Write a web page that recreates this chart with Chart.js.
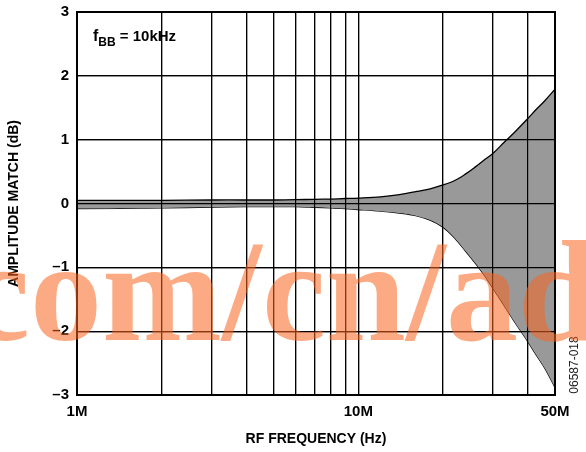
<!DOCTYPE html>
<html>
<head>
<meta charset="utf-8">
<script src="https://cdn.jsdelivr.net/npm/chart.js@4/dist/chart.umd.min.js"></script>
<style>
  html, body { margin: 0; padding: 0; background: #fff; }
  #wrap { width: 586px; height: 452px; }
</style>
</head>
<body>
<div id="wrap"><canvas id="c" width="586" height="452"></canvas></div>
<script>
// RF frequency sample points (MHz)
const freqMHz = [1, 2, 3, 4, 5, 6, 7, 8, 9, 10, 12, 14, 16, 18, 20, 22, 24, 26, 28, 30, 33, 36, 40, 43, 46, 50];
// Upper and lower edges of the amplitude match spread (dB)
const upperDb = [0.05, 0.05, 0.055, 0.055, 0.055, 0.06, 0.065, 0.07, 0.078, 0.085, 0.105, 0.14, 0.185, 0.23, 0.29, 0.36, 0.46, 0.57, 0.68, 0.78, 0.96, 1.12, 1.33, 1.48, 1.61, 1.79];
const lowerDb = [-0.08, -0.07, -0.055, -0.05, -0.05, -0.05, -0.06, -0.07, -0.08, -0.094, -0.12, -0.15, -0.19, -0.26, -0.37, -0.54, -0.74, -0.93, -1.12, -1.32, -1.6, -1.86, -2.16, -2.38, -2.58, -2.88];

// Grid positions on the log frequency axis (MHz) and the ones that get a label
const gridMHz = [1, 2, 3, 4, 5, 6, 7, 8, 9, 10, 20, 30, 40, 50];
const labelMHz = [1, 10, 50];
const labelText = ['1M', '10M', '50M'];
// Amplitude axis ticks
const yTickValues = [-3, -2, -1, 0, 1, 2, 3];
const yTickText = ['\u20133', '\u20132', '\u20131', '0', '1', '2', '3'];

const toPoints = vals => freqMHz.map((f, i) => ({ x: f * 1e6, y: vals[i] }));

const FONT = "'Liberation Sans', Arial, Helvetica, sans-serif";

const overlay = {
  id: 'overlay',
  afterDatasetsDraw(chart) {
    // grid lines sit on top of the shaded band
    const area = chart.chartArea;
    chart.scales.x.drawGrid(area);
    chart.scales.y.drawGrid(area);
    const ctx = chart.ctx;
    ctx.save();
    ctx.strokeStyle = '#000';
    ctx.lineWidth = 2;
    ctx.strokeRect(area.left, area.top, area.right - area.left, area.bottom - area.top);
    ctx.restore();
  },
  afterDraw(chart) {
    const ctx = chart.ctx;
    const area = chart.chartArea;
    ctx.save();
    // f_BB annotation
    ctx.fillStyle = '#000';
    ctx.textBaseline = 'alphabetic';
    ctx.textAlign = 'left';
    let x = area.left + 16;
    const y = 41;
    ctx.font = 'bold 16px ' + FONT;
    ctx.fillText('f', x, y);
    x += ctx.measureText('f').width;
    ctx.font = 'bold 12px ' + FONT;
    ctx.fillText('BB', x, y + 5);
    x += ctx.measureText('BB').width;
    ctx.font = 'bold 15px ' + FONT;
    ctx.fillText(' = 10kHz', x, y);

    // figure id along the right edge
    ctx.translate(575, 365);
    ctx.rotate(-Math.PI / 2);
    ctx.font = '12px ' + FONT;
    ctx.textAlign = 'center';
    ctx.textBaseline = 'middle';
    ctx.fillStyle = '#222';
    ctx.fillText('06587-018', 0, 0);
    ctx.restore();

    // stamp text across the plot
    ctx.save();
    ctx.font = "bold 144px 'Liberation Serif', 'Times New Roman', serif";
    ctx.fillStyle = 'rgba(250, 100, 30, 0.55)';
    ctx.textAlign = 'left';
    ctx.textBaseline = 'alphabetic';
    ctx.fillText('com/cn/ad', -34, 340);
    ctx.restore();
  }
};

new Chart(document.getElementById('c'), {
  type: 'line',
  data: {
    datasets: [
      {
        data: toPoints(upperDb),
        borderColor: '#000',
        borderWidth: 1.3,
        backgroundColor: '#999999',
        fill: '+1',
        pointRadius: 0,
        tension: 0.35
      },
      {
        data: toPoints(lowerDb),
        borderColor: '#000',
        borderWidth: 1.3,
        fill: false,
        pointRadius: 0,
        tension: 0.35
      }
    ]
  },
  options: {
    responsive: false,
    devicePixelRatio: 1,
    animation: false,
    layout: { padding: { top: 12, right: 31, left: 0, bottom: 0 } },
    plugins: { legend: { display: false }, tooltip: { enabled: false } },
    scales: {
      x: {
        type: 'logarithmic',
        min: 1e6,
        max: 5e7,
        afterBuildTicks(scale) {
          scale.ticks = gridMHz.map(f => ({ value: f * 1e6 }));
        },
        afterFit(scale) {
          scale.height = 57;
          scale.paddingLeft = 0;
          scale.paddingRight = 0;
        },
        grid: { color: '#000', lineWidth: 1.2, drawTicks: false },
        border: { display: true, color: '#000', width: 2 },
        ticks: {
          autoSkip: false,
          maxRotation: 0,
          padding: 8,
          color: '#000',
          font: { family: FONT, size: 15, weight: 'bold' },
          callback(value) {
            const i = labelMHz.indexOf(Math.round(value / 1e6));
            return i >= 0 && Math.abs(value - labelMHz[i] * 1e6) < 1 ? labelText[i] : '';
          }
        },
        title: {
          display: true,
          text: 'RF FREQUENCY (Hz)',
          color: '#000',
          font: { family: FONT, size: 14, weight: 'bold' },
          padding: { top: 0, bottom: 4 }
        }
      },
      y: {
        min: -3,
        max: 3,
        afterBuildTicks(scale) {
          scale.ticks = yTickValues.map(v => ({ value: v }));
        },
        afterFit(scale) {
          scale.width = 77;
          scale.paddingTop = 0;
          scale.paddingBottom = 0;
        },
        grid: { color: '#000', lineWidth: 1.2, drawTicks: false },
        border: { display: true, color: '#000', width: 2 },
        ticks: {
          padding: 8,
          color: '#000',
          font: { family: FONT, size: 15, weight: 'bold' },
          callback(value) {
            const i = yTickValues.indexOf(value);
            return i >= 0 ? yTickText[i] : '';
          }
        },
        title: {
          display: true,
          text: 'AMPLITUDE MATCH (dB)',
          color: '#000',
          font: { family: FONT, size: 14, weight: 'bold' },
          padding: { top: 6, bottom: 0 }
        }
      }
    }
  },
  plugins: [overlay]
});
</script>
</body>
</html>
